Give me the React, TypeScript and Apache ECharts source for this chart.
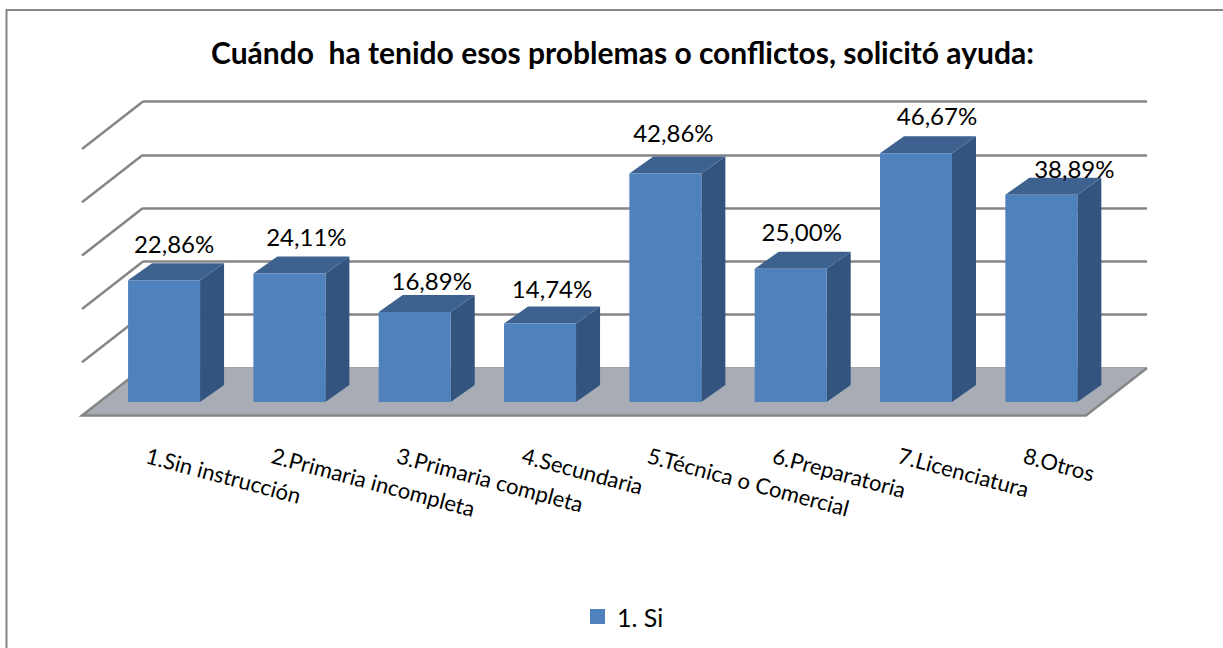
import React, { useEffect, useRef } from "react";
import * as echarts from "echarts";

const title = "Cuándo  ha tenido esos problemas o conflictos, solicitó ayuda:";
const seriesName = "1. Si";
const categories = [
  "1.Sin instrucción",
  "2.Primaria incompleta",
  "3.Primaria completa",
  "4.Secundaria",
  "5.Técnica o Comercial",
  "6.Preparatoria",
  "7.Licenciatura",
  "8.Otros",
];
const values = [22.86, 24.11, 16.89, 14.74, 42.86, 25.0, 46.67, 38.89];
const wallTicks = [0, 10, 20, 30, 40, 50];

const FONT = "Lato";
const DEPTH_X = 24;
const DEPTH_Y = 17;
const FLOOR_DX = 61;
const FLOOR_DY = 47.5;
const BAR_W = 72;
const labelNudgeX = [10, 17, 17, 12, 8, 11, 21, 33];
const labelNudgeY = [-20, -20, -14, -18, -24, -20, -21, -9];

const fmt = (v: number) => v.toFixed(2).replace(".", ",") + "%";

export default function App() {
  const ref = useRef<HTMLDivElement>(null);
  useEffect(() => {
    const chart = echarts.init(ref.current!, undefined, { renderer: "svg" });
    const gridFor = (left: number, width: number, bottomY: number) => ({
      left,
      width,
      top: bottomY - 50 * 5.33,
      height: 50 * 5.33,
    });
    chart.setOption({
      animation: false,
      backgroundColor: "#ffffff",
      textStyle: { fontFamily: FONT },
      title: {
        text: title,
        left: 206,
        top: 32,
        textStyle: { fontFamily: FONT, fontSize: 30, fontWeight: "bold", color: "#000000" },
      },
      legend: {
        data: [seriesName],
        left: 585,
        top: 599,
        itemWidth: 15,
        itemHeight: 15,
        icon: "rect",
        itemGap: 8,
        textStyle: { fontFamily: FONT, fontSize: 25, color: "#000000", padding: [0, 0, 0, 7] },
      },
      grid: [
        gridFor(101.4, 1002.6, 402), // bars
        gridFor(143, 1004, 368), // back wall
        gridFor(87, 1002.6, 402), // category labels
      ],
      xAxis: [
        { gridIndex: 0, type: "category", data: categories, show: false },
        { gridIndex: 1, type: "value", min: 0, max: 1, show: false },
        {
          gridIndex: 2,
          type: "category",
          data: categories,
          axisLine: { show: false },
          axisTick: { show: false },
          axisLabel: {
            interval: 0,
            rotate: -15,
            margin: 42,
            align: "left",
            verticalAlign: "top",
            fontFamily: FONT,
            fontSize: 22,
            color: "#000000",
            hideOverlap: false,
          },
        },
      ],
      yAxis: [
        { gridIndex: 0, type: "value", min: 0, max: 50, interval: 10, show: false },
        {
          gridIndex: 1,
          type: "value",
          min: 0,
          max: 50,
          interval: 10,
          axisLine: { show: false },
          axisTick: { show: false },
          axisLabel: { show: false },
          splitLine: { show: true, lineStyle: { color: "#868686", width: 2.5 } },
        },
        { gridIndex: 2, type: "value", min: 0, max: 50, interval: 10, show: false },
      ],
      graphic: [
        {
          type: "polyline",
          silent: true,
          z: 0,
          shape: { points: [[6.5, 648], [6.5, 10], [1223, 10]] },
          style: { stroke: "#868686", lineWidth: 2, fill: "none" },
        },
      ],
      series: [
        {
          type: "custom",
          name: "wall",
          xAxisIndex: 1,
          yAxisIndex: 1,
          z: 1,
          silent: true,
          data: wallTicks.filter((t) => t > 0).map((t) => [0, t]),
          renderItem: (_p: any, api: any) => {
            const a = api.coord([0, api.value(1)]);
            return {
              type: "line",
              shape: { x1: a[0], y1: a[1], x2: a[0] - FLOOR_DX, y2: a[1] + FLOOR_DY },
              style: { stroke: "#868686", lineWidth: 2.5 },
            };
          },
        },
        {
          type: "custom",
          name: "floor",
          xAxisIndex: 1,
          yAxisIndex: 1,
          z: 2,
          silent: true,
          data: [[0, 0, 1]],
          renderItem: (_p: any, api: any) => {
            const l = api.coord([0, 0]);
            const r = api.coord([1, 0]);
            return {
              type: "group",
              children: [
                {
                  type: "polygon",
                  shape: {
                    points: [
                      l,
                      [l[0] - FLOOR_DX, l[1] + FLOOR_DY],
                      [r[0] - FLOOR_DX, r[1] + FLOOR_DY],
                      r,
                    ],
                  },
                  style: { fill: "#a7acb5" },
                },
                {
                  type: "polyline",
                  shape: {
                    points: [
                      l,
                      [l[0] - FLOOR_DX, l[1] + FLOOR_DY],
                      [r[0] - FLOOR_DX, r[1] + FLOOR_DY],
                      r,
                    ],
                  },
                  style: { stroke: "#868686", lineWidth: 2.5, fill: "none" },
                },
              ],
            };
          },
        },
        {
          type: "custom",
          name: seriesName,
          xAxisIndex: 0,
          yAxisIndex: 0,
          z: 3,
          itemStyle: { color: "#4f81bd" },
          data: values.map((v, i) => [i, v]),
          renderItem: (p: any, api: any) => {
            const i = api.value(0);
            const v = api.value(1);
            const top = api.coord([i, v]);
            const base = api.coord([i, 0]);
            const x0 = top[0] - BAR_W / 2;
            const x1 = top[0] + BAR_W / 2;
            return {
              type: "group",
              children: [
                {
                  type: "polygon",
                  shape: {
                    points: [
                      [x1, top[1]],
                      [x1 + DEPTH_X, top[1] - DEPTH_Y],
                      [x1 + DEPTH_X, base[1] - DEPTH_Y],
                      [x1, base[1]],
                    ],
                  },
                  style: { fill: "#32547f" },
                },
                {
                  type: "polygon",
                  shape: {
                    points: [
                      [x0, top[1]],
                      [x0 + DEPTH_X, top[1] - DEPTH_Y],
                      [x1 + DEPTH_X, top[1] - DEPTH_Y],
                      [x1, top[1]],
                    ],
                  },
                  style: { fill: "#3e628f" },
                },
                {
                  type: "rect",
                  shape: { x: x0, y: top[1], width: BAR_W, height: base[1] - top[1] },
                  style: { fill: "#4f81bd" },
                },
                {
                  type: "text",
                  x: top[0] + labelNudgeX[i],
                  y: top[1] - DEPTH_Y + labelNudgeY[i],
                  style: {
                    text: fmt(v),
                    fill: "#000000",
                    fontFamily: FONT,
                    fontSize: 24,
                    align: "center",
                    verticalAlign: "middle",
                  },
                },
              ],
            };
          },
        },
      ],
    });
    return () => chart.dispose();
  }, []);
  return (
    <div
      ref={ref}
      style={{ position: "fixed", left: 0, top: 0, width: 1223, height: 648, background: "#fff" }}
    />
  );
}
